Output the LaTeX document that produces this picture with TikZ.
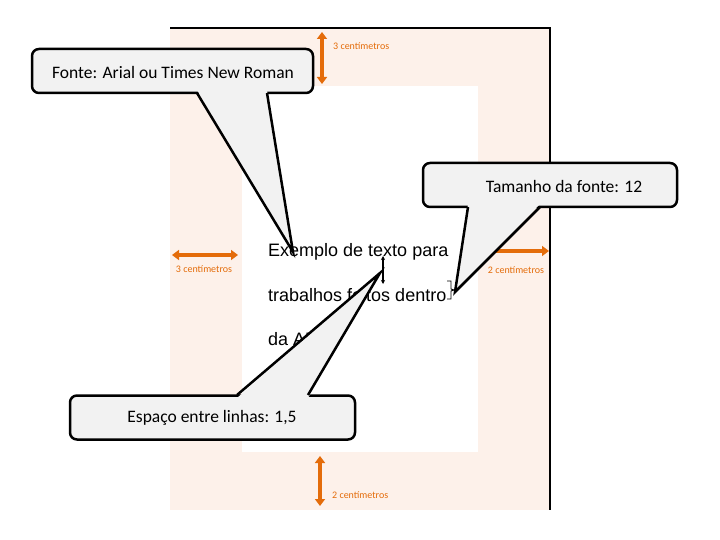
\documentclass[tikz,border=0pt]{standalone}
\usepackage{fontspec}
\setmainfont{Liberation Sans}
\newfontfamily\calibri{Carlito}
\usetikzlibrary{arrows.meta}

\begin{document}
\begin{tikzpicture}[x=1pt, y=-1pt,
    measure/.style={draw=orangeColour, line width=3.5pt, {Triangle[width=10pt,length=7pt]}-{Triangle[width=10pt,length=7pt]}},
    measureLabel/.style={text=orangeColour, inner sep=0pt, font=\calibri\fontsize{10}{12}\selectfont},
    sample/.style={anchor=base west, inner sep=0pt, font=\fontsize{18}{21}\selectfont},
    calloutBox/.style={draw=black, fill=fillColour, line width=2.5pt, rounded corners=7pt, minimum height=44pt},
    calloutText/.style={inner sep=0pt, font=\calibri\fontsize{17.5}{20}\selectfont},
    tail/.style={draw=black, line width=2.5pt, line join=miter}]
    % Define colours
    \definecolor{pageColour}{HTML}{FDF1EA}
    \definecolor{orangeColour}{HTML}{E46C0A}
    \definecolor{fillColour}{HTML}{F2F2F2}

    % Fix the size of the picture
    \useasboundingbox (0,0) rectangle (720,540);

    % Draw page and text area
    \fill[pageColour] (170,28) rectangle (550,510);
    \fill[white] (242,86) rectangle (478,452);
    \draw[line width=1.2pt] (170,28) -- (550,28) -- (550,510);

    % Draw margins
    \draw[measure] (322,32) -- (322,84);
    \node[measureLabel, anchor=west] (topLabel) at (333,46) {3 centímetros};
    \draw[measure] (172,255) -- (238,255);
    \node[measureLabel] (leftLabel) at (204,269) {3 centímetros};
    \draw[measure] (482,251) -- (549,251);
    \node[measureLabel] (rightLabel) at (516,270) {2 centímetros};
    \draw[measure] (320,456) -- (320,506);
    \node[measureLabel, anchor=west] (bottomLabel) at (332,495) {2 centímetros};

    % Sample text
    \node[sample] (lineOne) at (268,256) {Exemplo de texto para};
    \node[sample] (lineTwo) at (268,301) {trabalhos feitos dentro};
    \node[sample] (lineThree) at (268,345) {da ABNT};

    % Line spacing and font size marks
    \draw[line width=1.2pt, {Stealth[length=4pt,width=4pt]}-{Stealth[length=4pt,width=4pt]}] (383,256) -- (383,284);
    \draw[line width=0.8pt] (447,281) -- (451,281) -- (451,289) -- (454,290) -- (451,291) -- (451,299) -- (447,299);

    % Callout for the font
    \node[calloutBox, minimum width=281pt] (fontBox) at (172.5,71) {};
    \node[calloutText] (fontText) at (173,72) {Fonte: Arial ou Times New Roman};
    \coordinate (fontTip) at (293,252);
    \fill[fillColour] (197,90) -- (fontTip) -- (267,90) -- cycle;
    \draw[tail] (197,93) -- (fontTip) -- (267,93);

    % Callout for the font size
    \node[calloutBox, minimum width=254pt] (sizeBox) at (550,185) {};
    \node[calloutText] (sizeText) at (564,186) {Tamanho da fonte: 12};
    \coordinate (sizeTip) at (455,292);
    \fill[fillColour] (468,204) -- (sizeTip) -- (540,204) -- cycle;
    \draw[tail] (468,207) -- (sizeTip) -- (540,207);

    % Callout for the line spacing
    \node[calloutBox, minimum width=285pt] (spaceBox) at (212.5,417.5) {};
    \node[calloutText] (spaceText) at (212,418) {Espaço entre linhas: 1,5};
    \coordinate (spaceTip) at (380,273);
    \fill[fillColour] (237,398) -- (spaceTip) -- (308,398) -- cycle;
    \draw[tail] (237,395) -- (spaceTip) -- (308,395);

\end{tikzpicture}
\end{document}
